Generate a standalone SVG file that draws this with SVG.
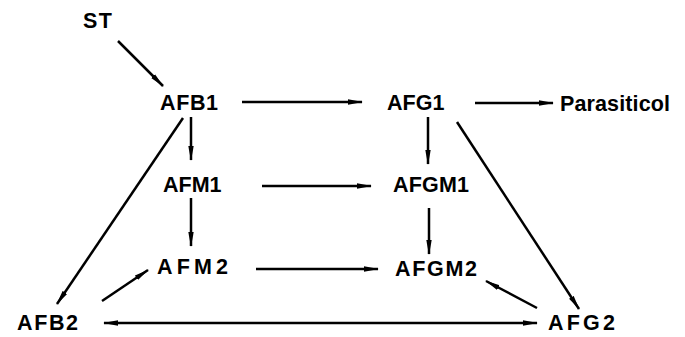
<svg xmlns="http://www.w3.org/2000/svg" width="685" height="337" viewBox="0 0 685 337">
  <style>
    .lbl { font-family: "Liberation Sans", Arial, sans-serif; font-weight: bold; font-size: 21.5px; fill: #000; }
    .edge { stroke: #000; stroke-width: 2.5; fill: none; }
    .arr { marker-end: url(#head); }
  </style>
  <defs>
    <marker id="head" viewBox="0 0 15 7" refX="14" refY="3.5" markerWidth="15" markerHeight="7" markerUnits="userSpaceOnUse" orient="auto-start-reverse">
      <path d="M0,0.8 L15,3.5 L0,6.2 z" fill="#000"/>
    </marker>
  </defs>
  <rect width="685" height="337" fill="#fff"/>

  <g id="connectors">
    <line class="edge arr" x1="118" y1="41" x2="163" y2="86"/>
    <line class="edge arr" x1="242" y1="102" x2="362" y2="102"/>
    <line class="edge arr" x1="475" y1="103" x2="553" y2="103"/>
    <line class="edge arr" x1="191" y1="117" x2="191" y2="160"/>
    <line class="edge arr" x1="428" y1="117" x2="428" y2="164"/>
    <line class="edge arr" x1="183" y1="118" x2="57" y2="304"/>
    <line class="edge arr" x1="457" y1="122" x2="579" y2="309"/>
    <line class="edge arr" x1="262" y1="186" x2="371" y2="186"/>
    <line class="edge arr" x1="191" y1="198" x2="191" y2="246"/>
    <line class="edge arr" x1="429" y1="208" x2="429" y2="254"/>
    <line class="edge arr" x1="102" y1="301" x2="148" y2="270"/>
    <line class="edge arr" x1="256" y1="269" x2="378" y2="269"/>
    <line class="edge arr" x1="537" y1="308" x2="486" y2="281"/>
    <line class="edge arr" x1="104" y1="323" x2="537" y2="323" marker-start="url(#head)"/>
  </g>

  <g id="node-st"><text class="lbl" x="83" y="28" textLength="29">ST</text></g>
  <g id="node-afb1"><text class="lbl" x="160" y="110" textLength="58">AFB1</text></g>
  <g id="node-afg1"><text class="lbl" x="387" y="110">AFG1</text></g>
  <g id="node-parasiticol"><text class="lbl" x="560" y="111" textLength="110">Parasiticol</text></g>
  <g id="node-afm1"><text class="lbl" x="163" y="192">AFM1</text></g>
  <g id="node-afgm1"><text class="lbl" x="393" y="192" textLength="76">AFGM1</text></g>
  <g id="node-afm2"><text class="lbl" x="157" y="274" textLength="71">AFM2</text></g>
  <g id="node-afgm2"><text class="lbl" x="395" y="276" textLength="82">AFGM2</text></g>
  <g id="node-afb2"><text class="lbl" x="17" y="330" textLength="61">AFB2</text></g>
  <g id="node-afg2"><text class="lbl" x="548" y="330" textLength="67">AFG2</text></g>
</svg>
